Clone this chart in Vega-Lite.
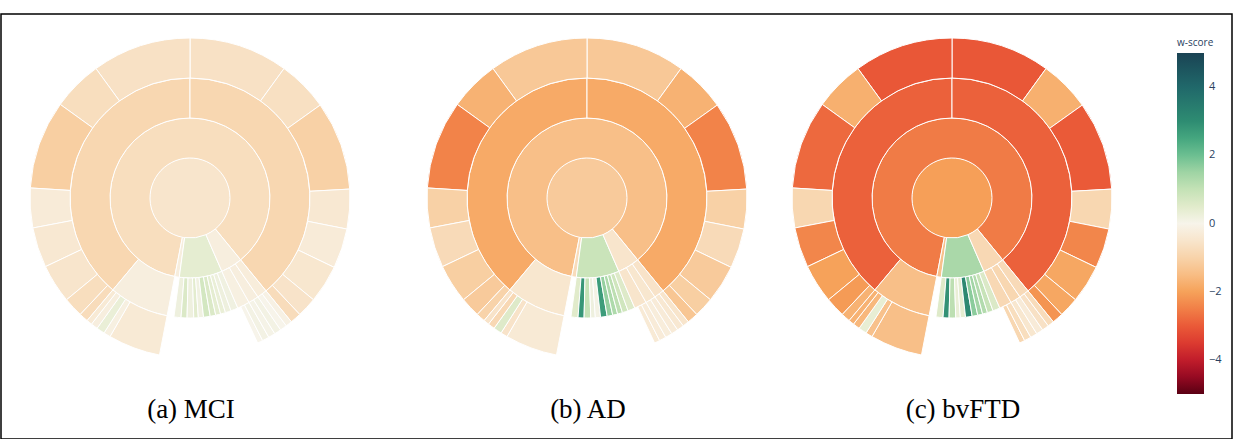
{
  "$schema": "https://vega.github.io/schema/vega-lite/v6.json",
  "width": 1231,
  "height": 425,
  "autosize": {"type": "none"},
  "padding": {"top": 14, "left": 1, "right": 1, "bottom": 0},
  "background": "white",
  "config": {"view": {"stroke": "black", "strokeWidth": 1.5}},
  "datasets": {
    "segments": [
      {"p":1,"r0":0,"r1":1,"a0":0,"a1":360,"w":-0.5},
      {"p":1,"r0":1,"r1":2,"a0":-169,"a1":140.7,"w":-0.7},
      {"p":1,"r0":1,"r1":2,"a0":187.7,"a1":191,"w":-0.2},
      {"p":1,"r0":1,"r1":2,"a0":156.5,"a1":187.7,"w":0.4},
      {"p":1,"r0":1,"r1":2,"a0":140.7,"a1":156.5,"w":-0.2},
      {"p":1,"r0":2,"r1":3,"a0":-140,"a1":0,"w":-0.9},
      {"p":1,"r0":2,"r1":3,"a0":0,"a1":140.7,"w":-0.9},
      {"p":1,"r0":2,"r1":3,"a0":-169,"a1":-140,"w":-0.2},
      {"p":1,"r0":2,"r1":3,"a0":184.3,"a1":187.7,"w":0.2},
      {"p":1,"r0":2,"r1":3,"a0":181.4,"a1":184.3,"w":0.6},
      {"p":1,"r0":2,"r1":3,"a0":178.2,"a1":181.4,"w":0.2},
      {"p":1,"r0":2,"r1":3,"a0":176,"a1":178.2,"w":0.45},
      {"p":1,"r0":2,"r1":3,"a0":173.5,"a1":176,"w":0.15},
      {"p":1,"r0":2,"r1":3,"a0":170.3,"a1":173.5,"w":0.75},
      {"p":1,"r0":2,"r1":3,"a0":167.6,"a1":170.3,"w":0.6},
      {"p":1,"r0":2,"r1":3,"a0":165.2,"a1":167.6,"w":0.4},
      {"p":1,"r0":2,"r1":3,"a0":162.8,"a1":165.2,"w":0.3},
      {"p":1,"r0":2,"r1":3,"a0":160,"a1":162.8,"w":0.2},
      {"p":1,"r0":2,"r1":3,"a0":156.5,"a1":160,"w":0.15},
      {"p":1,"r0":2,"r1":3,"a0":150.5,"a1":156.5,"w":-0.15},
      {"p":1,"r0":2,"r1":3,"a0":145.5,"a1":150.5,"w":-0.2},
      {"p":1,"r0":2,"r1":3,"a0":140.7,"a1":145.5,"w":-0.25},
      {"p":1,"r0":3,"r1":4,"a0":0,"a1":36,"w":-0.6},
      {"p":1,"r0":3,"r1":4,"a0":36,"a1":54.5,"w":-0.65},
      {"p":1,"r0":3,"r1":4,"a0":54.5,"a1":86.8,"w":-1.05},
      {"p":1,"r0":3,"r1":4,"a0":86.8,"a1":101.2,"w":-0.4},
      {"p":1,"r0":3,"r1":4,"a0":101.2,"a1":115.7,"w":-0.3},
      {"p":1,"r0":3,"r1":4,"a0":115.7,"a1":129.5,"w":-0.45},
      {"p":1,"r0":3,"r1":4,"a0":129.5,"a1":136.7,"w":-0.55},
      {"p":1,"r0":3,"r1":4,"a0":136.7,"a1":140.7,"w":-0.75},
      {"p":1,"r0":3,"r1":4,"a0":-36,"a1":0,"w":-0.6},
      {"p":1,"r0":3,"r1":4,"a0":-54.2,"a1":-36,"w":-0.7},
      {"p":1,"r0":3,"r1":4,"a0":-86.4,"a1":-54.2,"w":-1.1},
      {"p":1,"r0":3,"r1":4,"a0":-100.8,"a1":-86.4,"w":-0.3},
      {"p":1,"r0":3,"r1":4,"a0":-115.4,"a1":-100.8,"w":-0.4},
      {"p":1,"r0":3,"r1":4,"a0":-129.5,"a1":-115.4,"w":-0.5},
      {"p":1,"r0":3,"r1":4,"a0":-136.7,"a1":-129.5,"w":-0.7},
      {"p":1,"r0":3,"r1":4,"a0":-140,"a1":-136.7,"w":-0.75},
      {"p":1,"r0":3,"r1":4,"a0":-169,"a1":-150,"w":-0.35},
      {"p":1,"r0":3,"r1":4,"a0":-150,"a1":-147.5,"w":-0.15},
      {"p":1,"r0":3,"r1":4,"a0":-147.5,"a1":-144.5,"w":0.3},
      {"p":1,"r0":3,"r1":4,"a0":-144.5,"a1":-142,"w":-0.2},
      {"p":1,"r0":3,"r1":4,"a0":-142,"a1":-140,"w":-0.35},
      {"p":1,"r0":3,"r1":4,"a0":153,"a1":155,"w":0},
      {"p":1,"r0":3,"r1":4,"a0":150.5,"a1":153,"w":0.1},
      {"p":1,"r0":3,"r1":4,"a0":148,"a1":150.5,"w":0.05},
      {"p":1,"r0":3,"r1":4,"a0":145.5,"a1":148,"w":0.1},
      {"p":1,"r0":3,"r1":4,"a0":143,"a1":145.5,"w":0},
      {"p":1,"r0":3,"r1":4,"a0":140.7,"a1":143,"w":-0.1},
      {"p":2,"r0":0,"r1":1,"a0":0,"a1":360,"w":-1.2},
      {"p":2,"r0":1,"r1":2,"a0":-169,"a1":140.7,"w":-1.45},
      {"p":2,"r0":1,"r1":2,"a0":187.7,"a1":191,"w":-0.75},
      {"p":2,"r0":1,"r1":2,"a0":156.5,"a1":187.7,"w":0.9},
      {"p":2,"r0":1,"r1":2,"a0":140.7,"a1":156.5,"w":-0.5},
      {"p":2,"r0":2,"r1":3,"a0":-140,"a1":0,"w":-1.85},
      {"p":2,"r0":2,"r1":3,"a0":0,"a1":140.7,"w":-1.85},
      {"p":2,"r0":2,"r1":3,"a0":-169,"a1":-140,"w":-0.45},
      {"p":2,"r0":2,"r1":3,"a0":184.3,"a1":187.7,"w":0.5},
      {"p":2,"r0":2,"r1":3,"a0":181.4,"a1":184.3,"w":2.8},
      {"p":2,"r0":2,"r1":3,"a0":178.2,"a1":181.4,"w":1.0},
      {"p":2,"r0":2,"r1":3,"a0":176,"a1":178.2,"w":0.2},
      {"p":2,"r0":2,"r1":3,"a0":173.5,"a1":176,"w":0.1},
      {"p":2,"r0":2,"r1":3,"a0":170.3,"a1":173.5,"w":2.7},
      {"p":2,"r0":2,"r1":3,"a0":167.6,"a1":170.3,"w":1.6},
      {"p":2,"r0":2,"r1":3,"a0":165.2,"a1":167.6,"w":1.3},
      {"p":2,"r0":2,"r1":3,"a0":162.8,"a1":165.2,"w":1.1},
      {"p":2,"r0":2,"r1":3,"a0":160,"a1":162.8,"w":0.8},
      {"p":2,"r0":2,"r1":3,"a0":156.5,"a1":160,"w":0.55},
      {"p":2,"r0":2,"r1":3,"a0":150.5,"a1":156.5,"w":-0.5},
      {"p":2,"r0":2,"r1":3,"a0":145.5,"a1":150.5,"w":-0.45},
      {"p":2,"r0":2,"r1":3,"a0":140.7,"a1":145.5,"w":-0.55},
      {"p":2,"r0":3,"r1":4,"a0":0,"a1":36,"w":-1.25},
      {"p":2,"r0":3,"r1":4,"a0":36,"a1":54.5,"w":-1.7},
      {"p":2,"r0":3,"r1":4,"a0":54.5,"a1":86.8,"w":-2.45},
      {"p":2,"r0":3,"r1":4,"a0":86.8,"a1":101.2,"w":-1.05},
      {"p":2,"r0":3,"r1":4,"a0":101.2,"a1":115.7,"w":-0.8},
      {"p":2,"r0":3,"r1":4,"a0":115.7,"a1":129.5,"w":-1.2},
      {"p":2,"r0":3,"r1":4,"a0":129.5,"a1":136.7,"w":-1.1},
      {"p":2,"r0":3,"r1":4,"a0":136.7,"a1":140.7,"w":-1.3},
      {"p":2,"r0":3,"r1":4,"a0":-36,"a1":0,"w":-1.25},
      {"p":2,"r0":3,"r1":4,"a0":-54.2,"a1":-36,"w":-1.7},
      {"p":2,"r0":3,"r1":4,"a0":-86.4,"a1":-54.2,"w":-2.45},
      {"p":2,"r0":3,"r1":4,"a0":-100.8,"a1":-86.4,"w":-1.05},
      {"p":2,"r0":3,"r1":4,"a0":-115.4,"a1":-100.8,"w":-0.8},
      {"p":2,"r0":3,"r1":4,"a0":-129.5,"a1":-115.4,"w":-1.1},
      {"p":2,"r0":3,"r1":4,"a0":-136.7,"a1":-129.5,"w":-1.2},
      {"p":2,"r0":3,"r1":4,"a0":-140,"a1":-136.7,"w":-1.0},
      {"p":2,"r0":3,"r1":4,"a0":-169,"a1":-150,"w":-0.35},
      {"p":2,"r0":3,"r1":4,"a0":-150,"a1":-147.5,"w":-0.55},
      {"p":2,"r0":3,"r1":4,"a0":-147.5,"a1":-144.5,"w":0.55},
      {"p":2,"r0":3,"r1":4,"a0":-144.5,"a1":-142,"w":-0.85},
      {"p":2,"r0":3,"r1":4,"a0":-142,"a1":-140,"w":-0.55},
      {"p":2,"r0":3,"r1":4,"a0":153,"a1":155,"w":-0.35},
      {"p":2,"r0":3,"r1":4,"a0":150.5,"a1":153,"w":-0.3},
      {"p":2,"r0":3,"r1":4,"a0":148,"a1":150.5,"w":-0.25},
      {"p":2,"r0":3,"r1":4,"a0":145.5,"a1":148,"w":-0.3},
      {"p":2,"r0":3,"r1":4,"a0":143,"a1":145.5,"w":-0.4},
      {"p":2,"r0":3,"r1":4,"a0":140.7,"a1":143,"w":-0.5},
      {"p":3,"r0":0,"r1":1,"a0":0,"a1":360,"w":-2.05},
      {"p":3,"r0":1,"r1":2,"a0":-169,"a1":140.7,"w":-2.55},
      {"p":3,"r0":1,"r1":2,"a0":187.7,"a1":191,"w":-1.4},
      {"p":3,"r0":1,"r1":2,"a0":156.5,"a1":187.7,"w":1.35},
      {"p":3,"r0":1,"r1":2,"a0":140.7,"a1":156.5,"w":-0.85},
      {"p":3,"r0":2,"r1":3,"a0":-140,"a1":0,"w":-2.9},
      {"p":3,"r0":2,"r1":3,"a0":0,"a1":140.7,"w":-2.9},
      {"p":3,"r0":2,"r1":3,"a0":-169,"a1":-140,"w":-1.45},
      {"p":3,"r0":2,"r1":3,"a0":184.3,"a1":187.7,"w":0.55},
      {"p":3,"r0":2,"r1":3,"a0":181.4,"a1":184.3,"w":2.9},
      {"p":3,"r0":2,"r1":3,"a0":178.2,"a1":181.4,"w":1.1},
      {"p":3,"r0":2,"r1":3,"a0":176,"a1":178.2,"w":0.3},
      {"p":3,"r0":2,"r1":3,"a0":173.5,"a1":176,"w":0.4},
      {"p":3,"r0":2,"r1":3,"a0":170.3,"a1":173.5,"w":3.1},
      {"p":3,"r0":2,"r1":3,"a0":167.6,"a1":170.3,"w":1.7},
      {"p":3,"r0":2,"r1":3,"a0":165.2,"a1":167.6,"w":1.45},
      {"p":3,"r0":2,"r1":3,"a0":162.8,"a1":165.2,"w":1.25},
      {"p":3,"r0":2,"r1":3,"a0":160,"a1":162.8,"w":0.95},
      {"p":3,"r0":2,"r1":3,"a0":156.5,"a1":160,"w":0.6},
      {"p":3,"r0":2,"r1":3,"a0":150.5,"a1":156.5,"w":-0.85},
      {"p":3,"r0":2,"r1":3,"a0":145.5,"a1":150.5,"w":-0.9},
      {"p":3,"r0":2,"r1":3,"a0":140.7,"a1":145.5,"w":-0.8},
      {"p":3,"r0":3,"r1":4,"a0":0,"a1":36,"w":-3.05},
      {"p":3,"r0":3,"r1":4,"a0":36,"a1":54.5,"w":-1.75},
      {"p":3,"r0":3,"r1":4,"a0":54.5,"a1":86.8,"w":-3.0},
      {"p":3,"r0":3,"r1":4,"a0":86.8,"a1":101.2,"w":-0.9},
      {"p":3,"r0":3,"r1":4,"a0":101.2,"a1":115.7,"w":-2.4},
      {"p":3,"r0":3,"r1":4,"a0":115.7,"a1":129.5,"w":-1.9},
      {"p":3,"r0":3,"r1":4,"a0":129.5,"a1":136.7,"w":-1.9},
      {"p":3,"r0":3,"r1":4,"a0":136.7,"a1":140.7,"w":-2.2},
      {"p":3,"r0":3,"r1":4,"a0":-36,"a1":0,"w":-3.05},
      {"p":3,"r0":3,"r1":4,"a0":-54.2,"a1":-36,"w":-1.75},
      {"p":3,"r0":3,"r1":4,"a0":-86.4,"a1":-54.2,"w":-2.8},
      {"p":3,"r0":3,"r1":4,"a0":-100.8,"a1":-86.4,"w":-0.9},
      {"p":3,"r0":3,"r1":4,"a0":-115.4,"a1":-100.8,"w":-2.4},
      {"p":3,"r0":3,"r1":4,"a0":-129.5,"a1":-115.4,"w":-2.0},
      {"p":3,"r0":3,"r1":4,"a0":-136.7,"a1":-129.5,"w":-2.1},
      {"p":3,"r0":3,"r1":4,"a0":-140,"a1":-136.7,"w":-1.7},
      {"p":3,"r0":3,"r1":4,"a0":-169,"a1":-150,"w":-1.45},
      {"p":3,"r0":3,"r1":4,"a0":-150,"a1":-147.5,"w":-1.4},
      {"p":3,"r0":3,"r1":4,"a0":-147.5,"a1":-144.5,"w":0.35},
      {"p":3,"r0":3,"r1":4,"a0":-144.5,"a1":-142,"w":-1.6},
      {"p":3,"r0":3,"r1":4,"a0":-142,"a1":-140,"w":-1.7},
      {"p":3,"r0":3,"r1":4,"a0":153,"a1":155,"w":-0.9},
      {"p":3,"r0":3,"r1":4,"a0":150.5,"a1":153,"w":-0.7},
      {"p":3,"r0":3,"r1":4,"a0":148,"a1":150.5,"w":-0.45},
      {"p":3,"r0":3,"r1":4,"a0":145.5,"a1":148,"w":-0.3},
      {"p":3,"r0":3,"r1":4,"a0":143,"a1":145.5,"w":-0.6},
      {"p":3,"r0":3,"r1":4,"a0":140.7,"a1":143,"w":-0.75}
    ],
    "captions": [
      {"p":1,"label":"(a) MCI"},
      {"p":2,"label":"(b) AD"},
      {"p":3,"label":"(c) bvFTD"}
    ]
  },
  "layer": [
    {
      "data": {"name": "segments"},
      "mark": {"type": "arc", "stroke": "white"},
      "encoding": {
        "x": {"field": "p", "type": "quantitative", "axis": null, "stack": null,
              "scale": {"domain": [1, 2, 3], "range": [189, 586, 951], "nice": false, "zero": false}},
        "y": {"datum": "chart", "type": "nominal", "axis": null,
              "scale": {"type": "point", "domain": ["chart", "caption"], "range": [184, 396], "padding": 0}},
        "theta": {"field": "a0", "type": "quantitative", "stack": null,
                  "scale": {"domain": [0, 360], "range": [0, 6.283185307], "nice": false, "zero": false}},
        "theta2": {"field": "a1"},
        "radius": {"field": "r0", "type": "quantitative", "stack": null,
                   "scale": {"type": "linear", "domain": [0, 4], "range": [0, 160], "nice": false}},
        "radius2": {"field": "r1"},
        "strokeWidth": {"condition": {"test": "datum.r0 === 0", "value": 0}, "value": 1},
        "color": {
          "field": "w", "type": "quantitative",
          "scale": {
            "domain": [-5, -4.5, -4, -3.5, -3, -2.5, -2, -1.5, -1, -0.5, 0, 0.5, 1, 1.5, 2, 2.5, 3, 4, 5],
            "range": ["#5a0013", "#960a22", "#c11d2b", "#dc3b30", "#ea5a38", "#f17f47", "#f6a25a", "#f8bd84", "#f8d3aa", "#f8e5cc", "#f7f4ea", "#e1ebcb", "#c4e2b6", "#9fd4a4", "#6cbf91", "#45a67f", "#2e8c72", "#20686a", "#1a4354"],
            "interpolate": "rgb",
            "nice": false
          },
          "legend": {
            "title": "w-score",
            "orient": "none",
            "legendX": 1176,
            "legendY": 24,
            "direction": "vertical",
            "gradientLength": 341,
            "gradientThickness": 27,
            "values": [-4, -2, 0, 2, 4],
            "titleFont": "Open Sans",
            "titleFontSize": 10,
            "titleFontWeight": "normal",
            "titleColor": "#2a3f5f",
            "titlePadding": 5,
            "labelFont": "Open Sans",
            "labelFontSize": 11,
            "labelColor": "#2a3f5f",
            "labelOffset": 5
          }
        }
      }
    },
    {
      "data": {"name": "captions"},
      "mark": {"type": "text", "font": "Liberation Serif", "fontSize": 27, "color": "black", "align": "center", "baseline": "middle"},
      "encoding": {
        "x": {"field": "p", "type": "quantitative", "axis": null, "stack": null,
              "scale": {"domain": [1, 2, 3], "range": [190, 587, 962], "nice": false, "zero": false}},
        "y": {"datum": "caption", "type": "nominal", "axis": null},
        "text": {"field": "label"}
      }
    }
  ],
  "resolve": {"scale": {"x": "independent"}}
}
